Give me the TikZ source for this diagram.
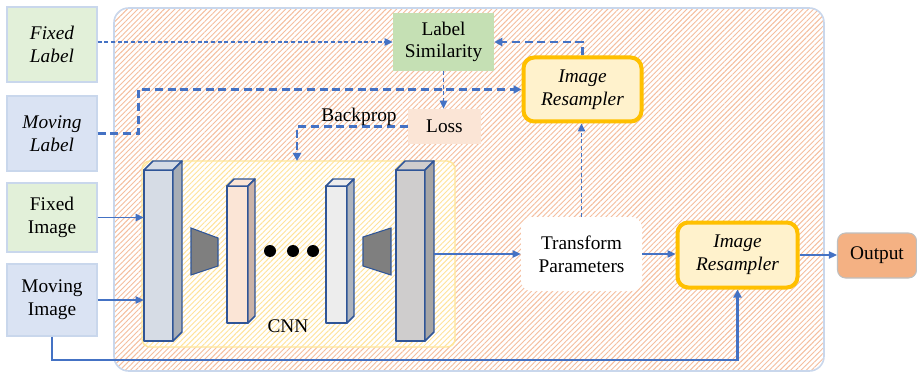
\documentclass[tikz,border=0pt]{standalone}
\usepackage{fontspec}
\setmainfont{Liberation Serif}
\newfontfamily\tnr{Liberation Serif}
\usetikzlibrary{arrows.meta,patterns.meta}
\definecolor{arr}{HTML}{4472C4}
\definecolor{lgreen}{HTML}{E2F0D9}
\definecolor{lblue}{HTML}{DAE3F3}
\definecolor{edgeblue}{HTML}{C9D7EC}
\definecolor{simgreen}{HTML}{C5E0B4}
\definecolor{losspeach}{HTML}{FBE5D6}
\definecolor{rsfill}{HTML}{FFF2CC}
\definecolor{rsedge}{HTML}{FFC000}
\definecolor{outfill}{HTML}{F4B183}
\definecolor{outedge}{HTML}{BFBFBF}
\definecolor{hatch}{HTML}{F5BE9E}
\definecolor{yhatch}{HTML}{FFE39A}
\definecolor{cnnedge}{HTML}{FFE699}
\definecolor{cubeedge}{HTML}{2F5597}
\definecolor{cafront}{HTML}{D6DCE5}
\definecolor{caside}{HTML}{A7ADB5}
\definecolor{cbside}{HTML}{CBB3A8}
\definecolor{ccfront}{HTML}{EDEDED}
\definecolor{ccside}{HTML}{ADB4BE}
\definecolor{cdfront}{HTML}{CFCDCD}
\definecolor{cdside}{HTML}{A5A5A5}
\definecolor{trap}{HTML}{7F7F7F}
\newcommand\mycube[7]{%
  % x, ytop, w, ybottom, d, front, side
  \filldraw[fill=#6,draw=cubeedge,line width=1.1pt,line join=round] (#1,#2) rectangle ({#1+#3},#4);
  \filldraw[fill=#6,draw=cubeedge,line width=1.1pt,line join=round] (#1,#2) -- ({#1+#5},{#2-#5}) -- ({#1+#3+#5},{#2-#5}) -- ({#1+#3},#2) -- cycle;
  \filldraw[fill=#7,draw=cubeedge,line width=1.1pt,line join=round] ({#1+#3},#2) -- ({#1+#3+#5},{#2-#5}) -- ({#1+#3+#5},{#4-#5}) -- ({#1+#3},#4) -- cycle;
}
\begin{document}
\begin{tikzpicture}[x=0.75pt,y=-0.75pt,
  every node/.style={font=\tnr\fontsize{14.5}{17}\selectfont, align=center, inner sep=0pt},
  itext/.style={font=\tnr\fontsize{14.5}{17}\selectfont\itshape},
  sidebox/.style={draw=edgeblue, line width=0.8pt, minimum width=67.5pt},
  rsbox/.style={draw=rsedge, fill=rsfill, line width=3pt, rounded corners=8pt, itext},
  thinarrow/.style={draw=arr, line width=0.9pt, -{Triangle[length=6pt,width=5.5pt]}},
  thickarrow/.style={draw=arr, line width=1.9pt, -{Triangle[length=6pt,width=6pt]}},
  thindash/.style={thinarrow, line width=1pt, dash pattern=on 3pt off 2pt},
  thickdash/.style={thickarrow, dash pattern=on 6pt off 3.5pt}
]
\useasboundingbox (0,0) rectangle (917,374);
% outer hatched panel
\path[preaction={fill=white}, pattern={Lines[angle=45,distance=2.8pt,line width=0.7pt]}, pattern color=hatch]
  (114,8) [rounded corners=11pt] rectangle (824,371);
\draw[edgeblue, line width=1.2pt, rounded corners=11pt] (114,8) rectangle (824,371);
% CNN panel
\path[preaction={fill=white}, pattern={Lines[angle=45,distance=2.8pt,line width=0.7pt]}, pattern color=yhatch]
  (142,161) [rounded corners=6pt] rectangle (455,347);
\draw[cnnedge, line width=1.1pt, rounded corners=6pt] (142,161) rectangle (455,347);
\node[inner sep=0pt, minimum width=234.75pt, minimum height=139.5pt] (cnn) at (298.5,254) {};
\coordinate (bptop) at (297,161);
% cubes
\mycube{144}{170}{29}{341}{9}{cafront}{caside}
\mycube{227}{186}{21}{323}{7}{losspeach}{cbside}
\mycube{326}{186}{21}{323}{7}{ccfront}{ccside}
\mycube{396}{170}{29}{341}{9}{cdfront}{cdside}
\node[minimum width=21.75pt, minimum height=128.25pt] (c1) at (158.5,255.5) {};
\node[minimum width=6.75pt, minimum height=128.25pt] (c4s) at (429.5,251) {};
% trapezoids
\filldraw[fill=trap, draw=cubeedge, line width=0.8pt] (191,228) -- (218,238) -- (218,266) -- (191,275) -- cycle;
\filldraw[fill=trap, draw=cubeedge, line width=0.8pt] (363,237) -- (391,228) -- (391,275) -- (363,266) -- cycle;
% dots
\fill[black] (270,251) circle (4.5pt) (293,251) circle (4.5pt) (313,251) circle (4.5pt);
\node at (288,326) {CNN};
% left inputs
\node[sidebox, fill=lgreen, minimum height=56.25pt, itext] (fl) at (52,44.5) {Fixed\\Label};
\node[sidebox, fill=lblue, minimum height=56.25pt, itext] (ml) at (52,133.5) {Moving\\Label};
\node[sidebox, fill=lgreen, minimum height=51.75pt] (fi) at (52,217.5) {Fixed\\Image};
\node[sidebox, fill=lblue, minimum height=54pt] (mi) at (52,300) {Moving\\Image};
% middle nodes
\node[fill=simgreen, minimum width=75.75pt, minimum height=43.5pt] (ls) at (443.5,42) {Label\\Similarity};
\node[fill=losspeach, minimum width=54.75pt, minimum height=26.25pt] (loss) at (444.5,126.5) {Loss};
\node[rsbox, minimum width=88.5pt, minimum height=48pt] (rs1) at (582.5,89.5) {Image\\Resampler};
\node[fill=white, rounded corners=8pt, minimum width=90.75pt, minimum height=55.5pt] (tp) at (581.5,254) {Transform\\Parameters};
\node[rsbox, minimum width=90pt, minimum height=48.75pt] (rs2) at (737.5,255) {Image\\Resampler};
\node[fill=outfill, draw=outedge, line width=0.8pt, rounded corners=6pt, minimum width=59.25pt, minimum height=33.75pt] (out) at (877,255.5) {Output};
\coordinate (low) at (0,360);
% connectors
\draw[thindash] (ls.west -| fl.east) -- (ls.west);
\draw[thickdash] (ml.east) -- ++(41,0) |- (rs1.west);
\draw[thindash] (ls.south) -- (ls.south |- loss.north);
\draw[thickdash] (loss.west) -| (bptop);
\node at (359,117) {Backprop};
\draw[thickdash] (rs1.north) |- (ls.east);
\draw[thindash] (tp.north) -- (tp.north |- rs1.south);
\draw[thinarrow] (fi.east) -- (fi.east -| c1.west);
\draw[thinarrow] (mi.east) -- (mi.east -| c1.west);
\draw[thinarrow] (c4s.east |- tp.west) -- (tp.west);
\draw[thinarrow] (tp.east) -- (tp.east -| rs2.west);
\draw[thinarrow] (rs2.east) -- (rs2.east -| out.west);
\draw[thickarrow] (mi.south) -- (mi.south |- low) -| (rs2.south);
\end{tikzpicture}
\end{document}
